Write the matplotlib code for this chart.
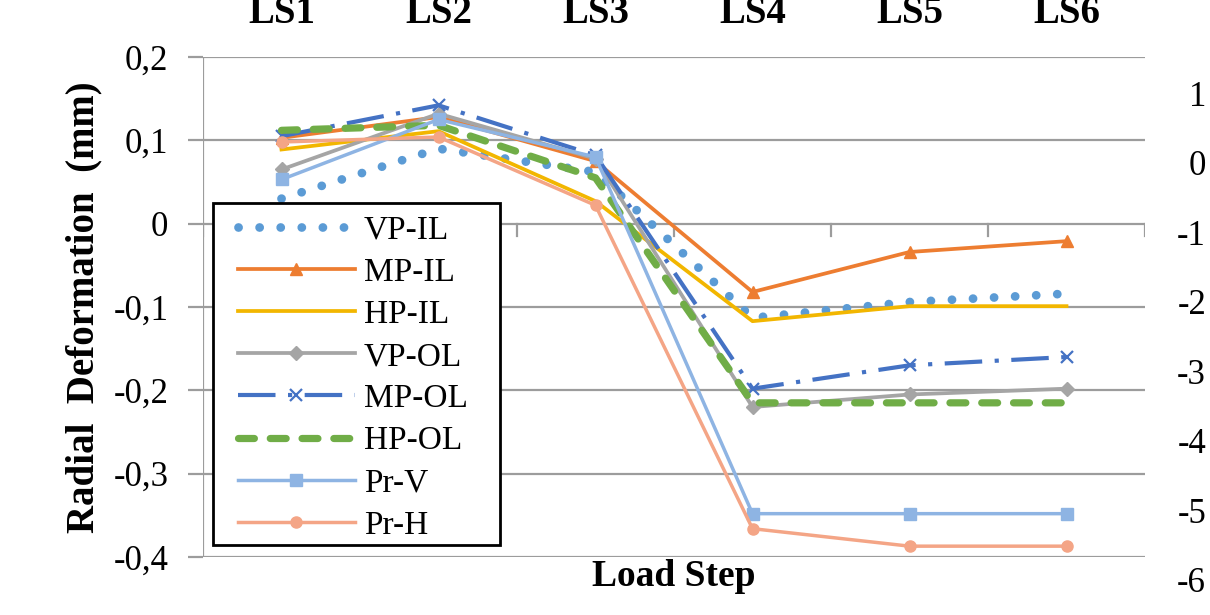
import matplotlib.pyplot as plt
from matplotlib.patches import Rectangle
from matplotlib.ticker import FixedLocator, FixedFormatter

# ── data ────────────────────────────────────────────────────────────────────
STEPS = ["LS1", "LS2", "LS3", "LS4", "LS5", "LS6"]

VP_IL = [0.030, 0.090, 0.062, -0.113, -0.094, -0.084]
MP_IL = [0.103, 0.128, 0.075, -0.082, -0.034, -0.021]
HP_IL = [0.089, 0.111, 0.027, -0.117, -0.099, -0.099]
VP_OL = [0.065, 0.132, 0.078, -0.220, -0.205, -0.198]
MP_OL = [0.105, 0.142, 0.082, -0.198, -0.170, -0.160]
HP_OL = [0.112, 0.118, 0.055, -0.215, -0.215, -0.215]
PR_V = [0.053, 0.125, 0.080, -0.348, -0.348, -0.348]
PR_H = [0.098, 0.104, 0.022, -0.366, -0.387, -0.387]

LEFT_TICKS = [0.2, 0.1, 0.0, -0.1, -0.2, -0.3, -0.4]
LEFT_LABELS = ["0,2", "0,1", "0", "-0,1", "-0,2", "-0,3", "-0,4"]
RIGHT_TICKS = [1, 0, -1, -2, -3, -4, -5, -6]
RIGHT_LABELS = ["1", "0", "-1", "-2", "-3", "-4", "-5", "-6"]

SERIES = [
    ("VP-IL", VP_IL, dict(color="#5B9BD5", lw=6.3, ls=(0, (0.01, 2.4)),
                          dash_capstyle="round")),
    ("MP-IL", MP_IL, dict(color="#ED7D31", lw=2.7, marker="^", ms=9)),
    ("HP-IL", HP_IL, dict(color="#F2B600", lw=2.7)),
    ("VP-OL", VP_OL, dict(color="#A5A5A5", lw=2.7, marker="D", ms=7.5)),
    ("MP-OL", MP_OL, dict(color="#4472C4", lw=3.0, ls=(0, (9, 3, 1, 3)),
                          marker="x", ms=9, mew=1.6, mec="#4472C4")),
    ("HP-OL", HP_OL, dict(color="#70AD47", lw=5.2, ls=(0, (2.2, 2.2)),
                          dash_capstyle="round")),
    ("Pr-V", PR_V, dict(color="#8EB4E3", lw=2.5, marker="s", ms=8.5)),
    ("Pr-H", PR_H, dict(color="#F4A586", lw=2.5, marker="o", ms=8)),
]

GRID_COLOR = "#9C9C9C"
SERIF = "Liberation Serif"

plt.rcParams.update({"font.family": SERIF, "axes.unicode_minus": False})

W, H = 1210, 615
fig = plt.figure(figsize=(W / 100, H / 100), dpi=100)


def px_box(x0, y0, x1, y1):
    """Pixel box (top-left origin) -> figure fraction rect."""
    return [x0 / W, 1 - y1 / H, (x1 - x0) / W, (y1 - y0) / H]


# ── main axes ───────────────────────────────────────────────────────────────
AX_PX = (203, 57, 1145, 557)
ax = fig.add_axes(px_box(*AX_PX))
x = list(range(len(STEPS)))


def ax_frac(px, py):
    """Pixel position -> axes fraction of the main axes."""
    x0, y0, x1, y1 = AX_PX
    return (px - x0) / (x1 - x0), (y1 - py) / (y1 - y0)


for label, values, style in SERIES:
    ax.plot(x, values, label=label, zorder=3, **style)

ax.set_xlim(-0.5, len(STEPS) - 0.5)
ax.set_ylim(-0.4, 0.2)

for v in LEFT_TICKS:
    ax.axhline(v, color=GRID_COLOR, lw=1.6, zorder=1)
ax.axvline(-0.5, color=GRID_COLOR, lw=1.6, zorder=1)

# category tick marks hanging off the zero line
tick_len = 0.6 / 500 * 12
for b in [i - 0.5 for i in range(len(STEPS) + 1)]:
    ax.plot([b, b], [0, -tick_len], color=GRID_COLOR, lw=1.6, zorder=1)

for side in ["top", "right", "bottom", "left"]:
    ax.spines[side].set_visible(False)

ax.yaxis.set_major_locator(FixedLocator(LEFT_TICKS))
ax.yaxis.set_major_formatter(FixedFormatter(LEFT_LABELS))
ax.tick_params(axis="y", length=11, width=1.6, color=GRID_COLOR,
               labelsize=25, pad=14)
ax.tick_params(axis="x", length=0, labelbottom=False)

# step names along the top (cut by the top edge, as in the source)
for i, name in enumerate(STEPS):
    ax.text(i, 1.068, name, transform=ax.get_xaxis_transform(),
            ha="center", va="baseline", fontsize=28, fontweight="bold")

ax.set_ylabel("Radial  Deformation  (mm)", fontsize=28, fontweight="bold",
              labelpad=8)
fig.text(674 / W, 1 - 577 / H, "Load Step", ha="center", va="center",
         fontsize=27, fontweight="bold")

# legend: frame drawn separately so the box matches exactly
bx0, by1 = ax_frac(213, 545)
bx1, by0 = ax_frac(500, 203)
ax.add_patch(Rectangle((bx0, by1), bx1 - bx0, by0 - by1,
                       transform=ax.transAxes, facecolor="white",
                       edgecolor="black", lw=2.0, zorder=4))
lx, ly = ax_frac(238, 215)
leg = ax.legend(loc="upper left", bbox_to_anchor=(lx, ly),
                fontsize=24, frameon=False, handlelength=3.5,
                handletextpad=0.27, labelspacing=0.35, borderpad=0,
                borderaxespad=0, numpoints=1)
leg.set_zorder(5)

# ── right-hand scale (labels only) ──────────────────────────────────────────
ax2 = fig.add_axes(px_box(203, 93, 1145, 580))
ax2.set_ylim(-6, 1)
ax2.set_xlim(0, 1)
ax2.patch.set_visible(False)
for side in ["top", "right", "bottom", "left"]:
    ax2.spines[side].set_visible(False)
ax2.yaxis.tick_right()
ax2.yaxis.set_major_locator(FixedLocator(RIGHT_TICKS))
ax2.yaxis.set_major_formatter(FixedFormatter(RIGHT_LABELS))
ax2.tick_params(axis="y", length=0, labelsize=25, pad=44)
ax2.tick_params(axis="x", length=0, labelbottom=False)
for t in ax2.get_yticklabels():
    t.set_horizontalalignment("right")

fig.savefig("out.png", dpi=100)
